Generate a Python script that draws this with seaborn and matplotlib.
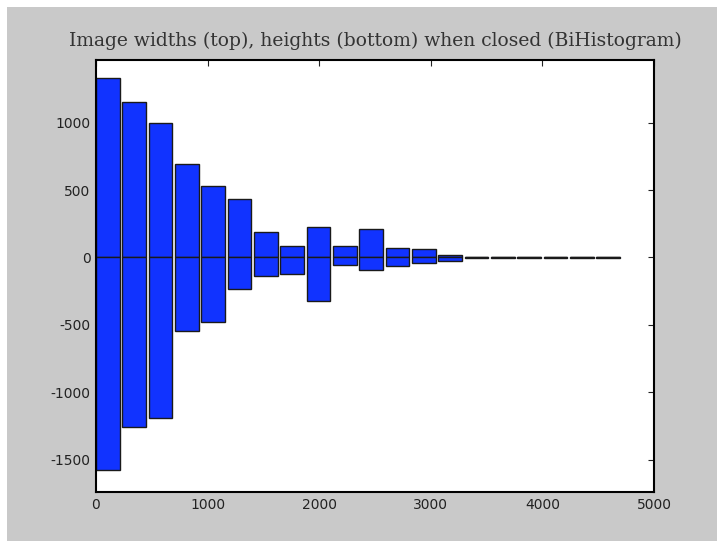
import numpy as np
import pandas as pd
import matplotlib
matplotlib.use('Agg')
import matplotlib.pyplot as plt
import seaborn as sns
from matplotlib.patches import Rectangle

# histogram bins (left edges of 20 bins, 236 px wide)
bin_width = 236
bin_left = np.arange(20) * bin_width

# widths -> drawn upwards, heights -> drawn downwards
width_counts = [1332, 1157, 1000, 690, 533, 435, 192, 83, 226, 83,
                209, 69, 66, 18, 6, 3, 3, 1, 0.5, 0.5]
height_counts = [-1577, -1257, -1189, -548, -481, -236, -140, -122, -324, -59,
                 -91, -66, -41, -24, -6, -3, -2, -1, -0.5, -0.5]

title = 'Image widths (top), heights (bottom) when closed (BiHistogram)'

sns.set_style('white')
plt.rcParams['font.family'] = ['DejaVu Sans']
plt.rcParams['axes.unicode_minus'] = False

fig = plt.figure(figsize=(7.17, 5.43), dpi=100, facecolor='white')
# grey canvas with a thin white strip top/left
fig.patches.append(Rectangle((7 / 717, 2 / 543), 1 - 7 / 717, 1 - 9 / 543,
                             transform=fig.transFigure, facecolor='#c9c9c9',
                             edgecolor='none', zorder=-10))
ax = fig.add_axes([96 / 717, 51 / 543, 558 / 717, 432 / 543])
ax.set_facecolor('white')

df = pd.DataFrame({'center': bin_left + 0.45 * bin_width,
                   'top': width_counts, 'bottom': height_counts})

blue = '#1133ff'
for col in ['top', 'bottom']:
    sns.barplot(data=df, x='center', y=col, native_scale=True, orient='x',
                width=0.9, color=blue, saturation=1, edgecolor='#1a1a1a',
                linewidth=1, ax=ax)

ax.set_xlim(0, 5000)
ax.set_ylim(-1.1 * 1582, 1.1 * 1332)
ax.set_xticks([0, 1000, 2000, 3000, 4000, 5000])
ax.set_yticks([-1500, -1000, -500, 0, 500, 1000])
ax.set_xlabel('')
ax.set_ylabel('')
ax.tick_params(direction='in', length=4, width=0.8, top=True, right=True,
               labelsize=10, pad=4, colors='#222222', labelcolor='#222222')
for sp in ax.spines.values():
    sp.set_visible(True)
    sp.set_color('black')
    sp.set_linewidth(1.5)

ax.set_title(title, fontsize=13.5, family='DejaVu Serif', color='#333333', pad=10)

fig.savefig('out.png', dpi=100, facecolor=fig.get_facecolor())
